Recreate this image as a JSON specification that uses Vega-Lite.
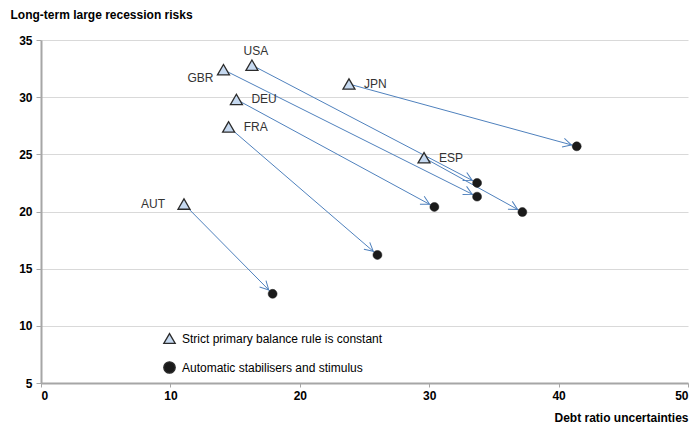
{
  "$schema": "https://vega.github.io/schema/vega-lite/v6.json",
  "width": 647,
  "height": 343,
  "autosize": {"type": "none"},
  "padding": {"left": 41, "top": 40, "right": 10, "bottom": 44},
  "config": {
    "view": {"stroke": null},
    "font": "Liberation Sans",
    "axis": {"labelFont": "Liberation Sans", "titleFont": "Liberation Sans"}
  },
  "data": {
    "values": [
      {"country": "USA", "x1": 16.3, "y1": 32.8, "x2": 33.7, "y2": 22.5},
      {"country": "GBR", "x1": 14.1, "y1": 32.4, "x2": 33.7, "y2": 21.3},
      {"country": "DEU", "x1": 15.1, "y1": 29.8, "x2": 30.4, "y2": 20.4},
      {"country": "FRA", "x1": 14.5, "y1": 27.4, "x2": 26.0, "y2": 16.2},
      {"country": "AUT", "x1": 11.05, "y1": 20.65, "x2": 17.9, "y2": 12.8},
      {"country": "JPN", "x1": 23.8, "y1": 31.15, "x2": 41.4, "y2": 25.7},
      {"country": "ESP", "x1": 29.6, "y1": 24.7, "x2": 37.2, "y2": 19.95}
    ]
  },
  "encoding": {
    "x": {
      "field": "x1", "type": "quantitative",
      "scale": {"domain": [0, 50], "nice": false},
      "axis": {
        "title": "Debt ratio uncertainties",
        "values": [0, 10, 20, 30, 40, 50],
        "grid": false,
        "domainColor": "#a6a6a6", "domainWidth": 2,
        "tickColor": "#a6a6a6", "tickSize": 4,
        "labelFontSize": 12, "labelFontWeight": "bold", "labelColor": "#000000", "labelPadding": 3,
        "titleFontSize": 12, "titleFontWeight": "bold", "titleColor": "#000000",
        "titleAnchor": "end", "titleAlign": "right", "titleX": 647, "titleY": 38, "titleBaseline": "alphabetic"
      }
    },
    "y": {
      "field": "y1", "type": "quantitative",
      "scale": {"domain": [5, 35], "nice": false, "zero": false},
      "axis": {
        "title": "Long-term large recession risks",
        "values": [5, 10, 15, 20, 25, 30, 35],
        "grid": true, "gridColor": "#d9d9d9", "gridWidth": 1,
        "domainColor": "#a6a6a6", "domainWidth": 2,
        "tickColor": "#a6a6a6", "tickSize": 5,
        "labelFontSize": 12, "labelFontWeight": "bold", "labelColor": "#000000", "labelPadding": 4,
        "titleFontSize": 12, "titleFontWeight": "bold", "titleColor": "#000000",
        "titleAngle": 0, "titleAlign": "left", "titleBaseline": "alphabetic", "titleX": -31, "titleY": -22
      }
    }
  },
  "layer": [
    {
      "mark": {"type": "rule", "color": "#4f81bd", "strokeWidth": 1},
      "encoding": {
        "x2": {"field": "x2"},
        "y2": {"field": "y2"}
      }
    },
    {
      "transform": [
        {"calculate": "atan2((datum.y1 - datum.y2) * 343 / 30, (datum.x2 - datum.x1) * 647 / 50) * 180 / PI", "as": "ang"}
      ],
      "mark": {"type": "point", "shape": "M-1.4,-0.45L-0.55,0L-1.4,0.45", "filled": false, "stroke": "#4f81bd", "strokeWidth": 1, "size": 400, "opacity": 1},
      "encoding": {
        "x": {"field": "x2", "type": "quantitative"},
        "y": {"field": "y2", "type": "quantitative"},
        "angle": {"field": "ang", "type": "quantitative", "scale": null}
      }
    },
    {
      "mark": {"type": "point", "filled": true, "stroke": "#1a1a1a", "strokeWidth": 0.5, "size": 80, "opacity": 1},
      "encoding": {
        "x": {"field": "x2", "type": "quantitative"},
        "y": {"field": "y2", "type": "quantitative"},
        "shape": {
          "datum": "Automatic stabilisers and stimulus",
          "type": "nominal",
          "scale": {
            "domain": ["Strict primary balance rule is constant", "Automatic stabilisers and stimulus"],
            "range": ["triangle-up", "circle"]
          },
          "legend": {
            "title": null,
            "orient": "none",
            "legendX": 122,
            "legendY": 292,
            "padding": 0,
            "rowPadding": 12,
            "labelFontSize": 12,
            "labelColor": "#000000",
            "labelOffset": 6,
            "labelLimit": 0,
            "symbolSize": 130,
            "symbolStrokeColor": "#2b2b2b",
            "symbolStrokeWidth": 1.3,
            "symbolOpacity": 1,
            "encode": {
              "symbols": {
                "update": {
                  "size": {"signal": "datum.value === 'Automatic stabilisers and stimulus' ? 85 : 144"}
                }
              }
            }
          }
        },
        "color": {
          "datum": "Automatic stabilisers and stimulus",
          "type": "nominal",
          "scale": {
            "domain": ["Strict primary balance rule is constant", "Automatic stabilisers and stimulus"],
            "range": ["#c6d9f0", "#1a1a1a"]
          },
          "legend": {
            "title": null,
            "orient": "none",
            "legendX": 122,
            "legendY": 292,
            "padding": 0,
            "rowPadding": 12,
            "labelFontSize": 12,
            "labelColor": "#000000",
            "labelOffset": 6,
            "labelLimit": 0,
            "symbolSize": 130,
            "symbolStrokeColor": "#2b2b2b",
            "symbolStrokeWidth": 1.3,
            "symbolOpacity": 1
          }
        }
      }
    },
    {
      "mark": {"type": "point", "filled": true, "stroke": "#2b2b2b", "strokeWidth": 1.3, "size": 144, "opacity": 1},
      "encoding": {
        "shape": {
          "datum": "Strict primary balance rule is constant",
          "type": "nominal",
          "scale": {
            "domain": ["Strict primary balance rule is constant", "Automatic stabilisers and stimulus"],
            "range": ["triangle-up", "circle"]
          }
        },
        "color": {
          "datum": "Strict primary balance rule is constant",
          "type": "nominal",
          "scale": {
            "domain": ["Strict primary balance rule is constant", "Automatic stabilisers and stimulus"],
            "range": ["#c6d9f0", "#1a1a1a"]
          }
        }
      }
    },
    {
      "transform": [{"filter": {"field": "country", "oneOf": ["DEU", "FRA", "JPN", "ESP"]}}],
      "mark": {"type": "text", "align": "left", "baseline": "middle", "dx": 15, "dy": 0, "fontSize": 12, "color": "#333333"},
      "encoding": {"text": {"field": "country"}}
    },
    {
      "transform": [{"filter": {"field": "country", "oneOf": ["GBR"]}}],
      "mark": {"type": "text", "align": "right", "baseline": "middle", "dx": -10, "dy": 8, "fontSize": 12, "color": "#333333"},
      "encoding": {"text": {"field": "country"}}
    },
    {
      "transform": [{"filter": {"field": "country", "oneOf": ["AUT"]}}],
      "mark": {"type": "text", "align": "right", "baseline": "middle", "dx": -19, "dy": 0, "fontSize": 12, "color": "#333333"},
      "encoding": {"text": {"field": "country"}}
    },
    {
      "transform": [{"filter": {"field": "country", "oneOf": ["USA"]}}],
      "mark": {"type": "text", "align": "center", "baseline": "middle", "dx": 4, "dy": -14, "fontSize": 12, "color": "#333333"},
      "encoding": {"text": {"field": "country"}}
    }
  ]
}
